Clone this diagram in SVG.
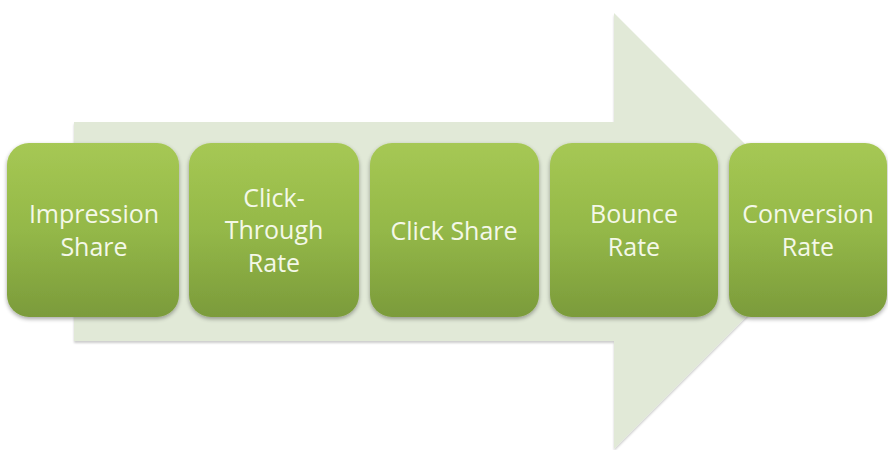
<svg xmlns="http://www.w3.org/2000/svg" width="888" height="450" viewBox="0 0 888 450">
  <defs>
    <linearGradient id="boxFill" x1="0" y1="0" x2="0" y2="1">
      <stop offset="0" stop-color="#a6c854"/>
      <stop offset="0.5" stop-color="#94b848"/>
      <stop offset="1" stop-color="#7b9b3b"/>
    </linearGradient>
    <filter id="soft" x="-10%" y="-10%" width="120%" height="125%">
      <feGaussianBlur in="SourceAlpha" stdDeviation="2"/>
      <feOffset dy="2" result="b"/>
      <feComponentTransfer><feFuncA type="linear" slope="0.35"/></feComponentTransfer>
      <feMerge><feMergeNode/><feMergeNode in="SourceGraphic"/></feMerge>
    </filter>
    <filter id="arrowShadow" x="-5%" y="-5%" width="110%" height="110%">
      <feGaussianBlur in="SourceAlpha" stdDeviation="1.2"/>
      <feOffset dy="1.5"/>
      <feComponentTransfer><feFuncA type="linear" slope="0.2"/></feComponentTransfer>
      <feMerge><feMergeNode/><feMergeNode in="SourceGraphic"/></feMerge>
    </filter>
  </defs>
  <style>
    .box { fill: url(#boxFill); filter: url(#soft); }
    .label { font-family: "Open Sans", "Noto Sans", "Liberation Sans", sans-serif; font-size: 25px; fill: #f4f8e8; text-anchor: middle; }
  </style>

  <rect width="888" height="450" fill="#ffffff"/>

  <!-- background process arrow -->
  <g id="connectors">
    <path d="M74,122 L614,122 L614,13 L832,231 L614,449 L614,341 L74,341 Z" fill="#e1e9d7" filter="url(#arrowShadow)"/>
  </g>

  <g id="impression-share">
    <rect class="box" x="7" y="143" width="172" height="174" rx="22"/>
    <text class="label" x="94" y="223">Impression</text>
    <text class="label" x="94" y="256">Share</text>
  </g>

  <g id="click-through-rate">
    <rect class="box" x="189" y="143" width="170" height="174" rx="22"/>
    <text class="label" x="274" y="207">Click-</text>
    <text class="label" x="274" y="239">Through</text>
    <text class="label" x="274" y="272">Rate</text>
  </g>

  <g id="click-share">
    <rect class="box" x="370" y="143" width="169" height="174" rx="22"/>
    <text class="label" x="454" y="240">Click Share</text>
  </g>

  <g id="bounce-rate">
    <rect class="box" x="550" y="143" width="168" height="174" rx="22"/>
    <text class="label" x="634" y="223">Bounce</text>
    <text class="label" x="634" y="256">Rate</text>
  </g>

  <g id="conversion-rate">
    <rect class="box" x="729" y="143" width="158" height="174" rx="22"/>
    <text class="label" x="808" y="223">Conversion</text>
    <text class="label" x="808" y="256">Rate</text>
  </g>
</svg>
